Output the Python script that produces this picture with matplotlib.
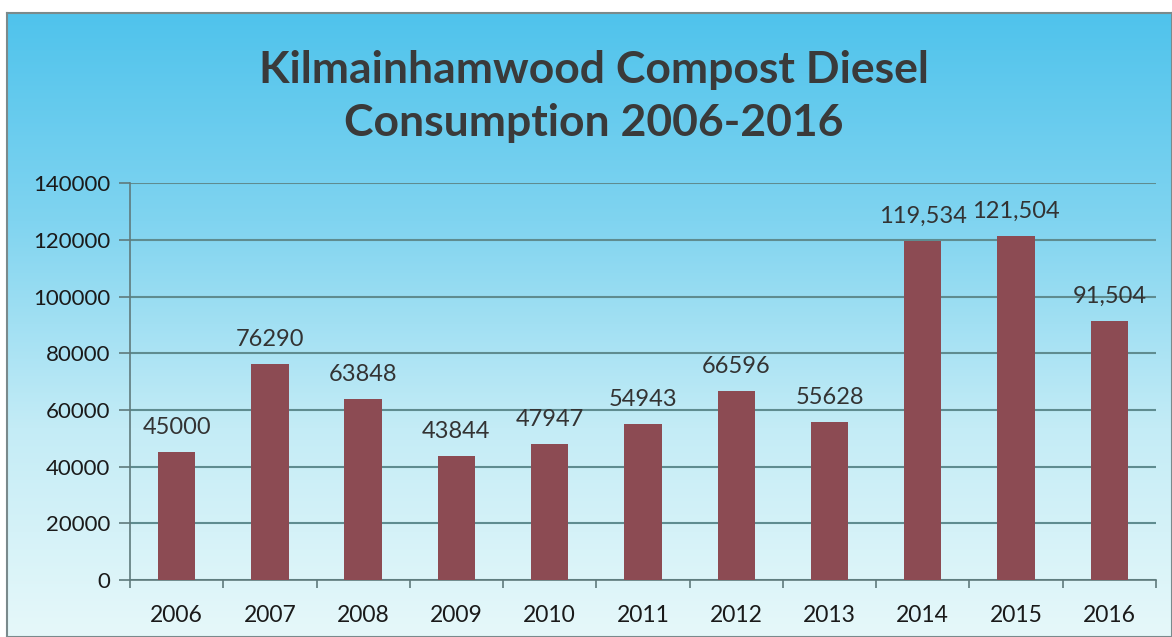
import numpy as np
import matplotlib.pyplot as plt
from matplotlib.colors import LinearSegmentedColormap

# data
years = ['2006', '2007', '2008', '2009', '2010', '2011', '2012', '2013', '2014', '2015', '2016']
diesel = [45000, 76290, 63848, 43844, 47947, 54943, 66596, 55628, 119534, 121504, 91504]
labels = ['45000', '76290', '63848', '43844', '47947', '54943', '66596', '55628',
          '119,534', '121,504', '91,504']
yticks = [0, 20000, 40000, 60000, 80000, 100000, 120000, 140000]

plt.rcParams['font.family'] = ['Lato', 'DejaVu Sans']

fig = plt.figure(figsize=(11.72, 6.37), dpi=100)
fig.patch.set_facecolor('white')

# gradient background panel
bg = fig.add_axes([0.006, 0.0, 0.994, 0.98])
cmap = LinearSegmentedColormap.from_list('sky', ['#4fc3ec', '#80d4f0', '#c4ecf6', '#e6f8fa'])
grad = np.linspace(0, 1, 256).reshape(-1, 1)
bg.imshow(grad, aspect='auto', cmap=cmap, extent=[0, 1, 0, 1], origin='upper')
bg.set_xticks([])
bg.set_yticks([])
for s in bg.spines.values():
    s.set_color('#7a8a8c')
    s.set_linewidth(1.5)

ax = fig.add_axes([0.1109, 0.0895, 0.8754, 0.623])
ax.patch.set_alpha(0)
x = np.arange(len(years))
ax.bar(x, diesel, width=0.4, color='#8c4b53', zorder=3)

for xi, v, lab in zip(x, diesel, labels):
    ax.text(xi, v + 5000, lab, ha='center', va='bottom', fontsize=17, color='#333333')

ax.set_ylim(0, 140000)
ax.set_xlim(-0.5, len(years) - 0.5)
ax.set_yticks(yticks)
ax.set_yticklabels([str(t) for t in yticks], fontsize=16, color='#1a1a1a')
ax.grid(axis='y', color='#5f8c90', linewidth=1.5, zorder=1)
ax.set_xticks(x)
ax.set_xticklabels(years, fontsize=16.5, color='#1a1a1a')
ax.set_xticks(np.arange(-0.5, len(years)), minor=True)
ax.tick_params(axis='x', which='major', length=0, pad=18)
ax.tick_params(axis='x', which='minor', length=6, color='#5f7a7c', width=1.2)
ax.tick_params(axis='y', length=8, color='#5f7a7c', width=1.2, pad=6)
for side in ['top', 'right']:
    ax.spines[side].set_visible(False)
ax.spines['left'].set_color('#5f7a7c')
ax.spines['bottom'].set_color('#5f7a7c')
ax.spines['left'].set_linewidth(1.2)
ax.spines['bottom'].set_linewidth(1.2)

fig.text(0.507, 0.849, 'Kilmainhamwood Compost Diesel\nConsumption 2006-2016',
         ha='center', va='center', fontsize=32, fontweight='bold', color='#3a3a3a',
         linespacing=1.4)

plt.savefig('out.png', dpi=100)
